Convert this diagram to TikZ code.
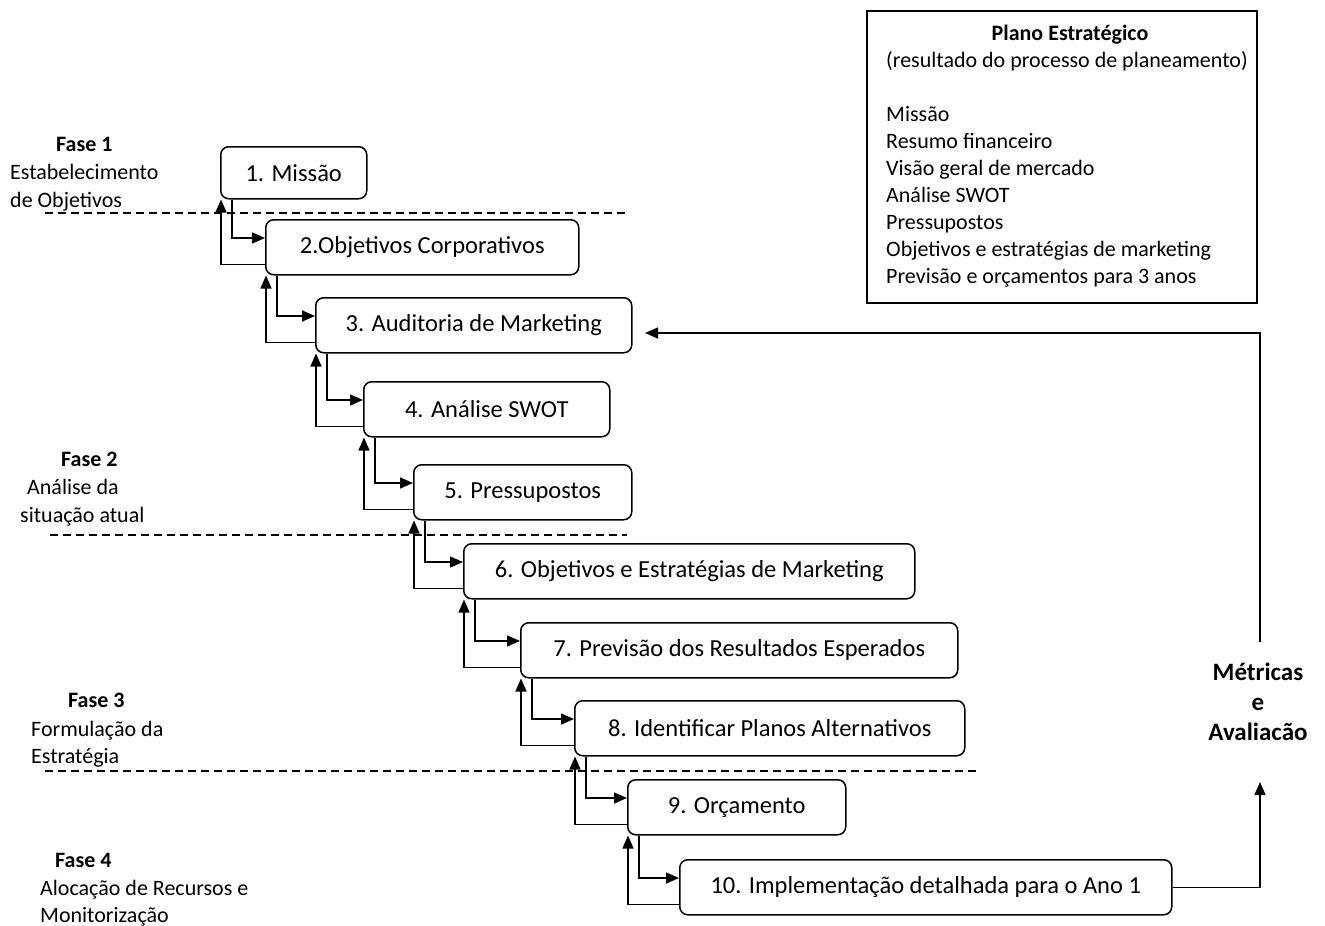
\documentclass[tikz,border=0pt]{standalone}
\usepackage{fontspec}
\setmainfont{Carlito}
\usetikzlibrary{arrows.meta,calc}
\begin{document}
\begin{tikzpicture}[x=1pt,y=-1pt,
  stepbox/.style={draw, line width=1.5pt, rounded corners=8pt, minimum height=55pt, anchor=north west, inner sep=0pt, font=\fontsize{24.5}{28}\selectfont},
  conn/.style={line width=1.5pt, -{Triangle[length=13pt,width=11pt]}},
  lbl/.style={anchor=base west, inner sep=0pt, font=\fontsize{22}{26}\selectfont},
  blbl/.style={anchor=base west, inner sep=0pt, font=\bfseries\fontsize{22}{26}\selectfont},
  dline/.style={line width=1.3pt, dash pattern=on 8pt off 5pt}
]
\useasboundingbox (0,0) rectangle (1325,926);

% step boxes
\node[stepbox, minimum width=146pt, minimum height=52pt] (b1) at (220,146) {1. Missão};
\node[stepbox, minimum width=313pt] (b2) at (265,219) {2.Objetivos Corporativos};
\node[stepbox, minimum width=316pt] (b3) at (315,297) {3. Auditoria de Marketing};
\node[stepbox, minimum width=246pt] (b4) at (363,381) {4. Análise SWOT};
\node[stepbox, minimum width=218pt] (b5) at (413,464) {5. Pressupostos};
\node[stepbox, minimum width=451pt] (b6) at (463,543) {6. Objetivos e Estratégias de Marketing};
\node[stepbox, minimum width=437pt] (b7) at (520,622) {7. Previsão dos Resultados Esperados};
\node[stepbox, minimum width=390pt] (b8) at (574,700) {8. Identificar Planos Alternativos};
\node[stepbox, minimum width=218pt] (b9) at (627,779) {9. Orçamento};
\node[stepbox, minimum width=492pt] (b10) at (679,859) {10. Implementação detalhada para o Ano 1};

% connectors between steps
\foreach \a/\b in {b1/b2,b2/b3,b3/b4,b4/b5,b5/b6,b6/b7,b7/b8,b8/b9,b9/b10} {
  \draw[conn] ($(\a.south west)+(12,0)$) |- ($(\b.north west)+(0,19)$);
  \draw[conn] ($(\b.south west)+(0,-11)$) -| ($(\a.south west)+(1,0)$);
}

% dashed phase separators
\coordinate (d1a) at (45,213);  \coordinate (d1b) at (625,213);
\coordinate (d2a) at (50,535);  \coordinate (d2b) at (627,535);
\coordinate (d3a) at (45,771);  \coordinate (d3b) at (980,771);
\draw[dline] (d1a) -- (d1b);
\draw[dline] (d2a) -- (d2b);
\draw[dline] (d3a) -- (d3b);

% phase labels
\node[blbl] (f1) at (56,151) {Fase 1};
\node[lbl] (f1a) at (10,179) {Estabelecimento};
\node[lbl] (f1b) at (10,207) {de Objetivos};
\node[blbl] (f2) at (61,466) {Fase 2};
\node[lbl] (f2a) at (27,494) {Análise da};
\node[lbl] (f2b) at (20,522) {situação atual};
\node[blbl] (f3) at (68,707) {Fase 3};
\node[lbl] (f3a) at (31,736) {Formulação da};
\node[lbl] (f3b) at (31,763) {Estratégia};
\node[blbl] (f4) at (55,867) {Fase 4};
\node[lbl] (f4a) at (40,895) {Alocação de Recursos e};
\node[lbl] (f4b) at (40,922) {Monitorização};

% metrics loop
\node[font=\bfseries\fontsize{25}{30}\selectfont, align=center, inner sep=0pt] (met) at (1258,702) {Métricas\\e\\Avaliacão};
\coordinate (mbot) at (1260,782);
\coordinate (mtop) at (1260,642);
\coordinate (a3) at (645,333);
\draw[conn] (b10.east) -| (mbot);
\draw[conn] (mtop) |- (a3);

% strategic plan box
\node[draw, line width=1.5pt, minimum width=390pt, minimum height=292pt, anchor=north west, inner sep=0pt] (plano) at (866,10) {};
\node[anchor=base, inner sep=0pt, font=\bfseries\fontsize{22}{26}\selectfont] (pt) at (1070,40) {Plano Estratégico};
\node[lbl] (ps) at (886,67) {(resultado do processo de planeamento)};
\foreach \t [count=\k from 0] in {Missão,Resumo financeiro,Visão geral de mercado,Análise SWOT,Pressupostos,Objetivos e estratégias de marketing,Previsão e orçamentos para 3 anos} {
  \node[lbl] (p\k) at (886,121+27*\k) {\t};
}
\end{tikzpicture}
\end{document}
